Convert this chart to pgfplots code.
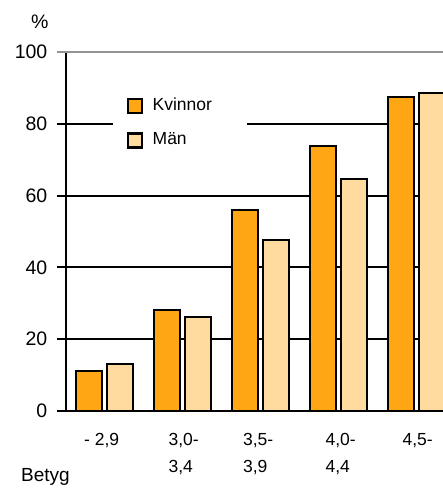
\documentclass[border=0pt]{standalone}
\usepackage{fontspec}
\setmainfont{Liberation Sans}
\usepackage{pgfplots}
\pgfplotsset{compat=1.18}
\definecolor{kv}{RGB}{255,166,20}
\definecolor{ma}{RGB}{255,219,160}
\newcommand\fs{\fontsize{17.5}{26.5}\selectfont}
\newcommand\fy{\fontsize{19.5}{23}\selectfont}
\begin{document}
\fs
\begin{tikzpicture}[x=1pt,y=1pt]
\begin{axis}[
  at={(65.5pt,78pt)}, anchor=south west,
  scale only axis, width=377.5pt, height=359pt,
  xmin=-0.4994, xmax=4.342, ymin=0, ymax=100,
  axis x line*=bottom, axis y line*=left,
  axis line style={line width=2pt, black},
  ybar, bar width=26pt,
  ytick={0,20,40,60,80},
  extra y ticks={100},
  extra y tick style={grid style={gray!85, line width=2pt}, ytick style={gray!85, line width=2pt}},
  ymajorgrids, grid style={black, line width=2pt},
  tick align=outside, major tick length=9pt,
  ytick style={black, line width=2pt},
  xtick={0,1,2,3,4}, xtick style={draw=none},
  xticklabels={{\hspace*{-6.5pt}- 2,9},{3,0-\\3,4},{\hspace*{-3.5pt}3,5-\\\hspace*{-3.5pt}3,9},{\hspace*{1pt}4,0-\\\hspace*{1pt}4,4},{4,5-}},
  xticklabel style={anchor=north west, inner sep=0pt, align=left, font=\fs, xshift=-14pt, yshift=-13.3pt},
  yticklabel style={anchor=east, inner sep=0pt, font=\fy, xshift=-9pt},
  /pgf/number format/assume math mode=true,
  legend style={at={(axis description cs:0.1258,0.9025)}, anchor=north west,
    draw=none, fill=white, inner xsep=13.5pt, inner ysep=6pt,
    nodes={inner sep=0pt, text height=17pt, text depth=4pt},
    cells={anchor=base west}, row sep=13pt, column sep=9.5pt, font=\fs},
  legend image code/.code={\draw[#1, line width=2.5pt] (0pt,-3pt) rectangle (14pt,11pt);},
]
\addplot[fill=kv, draw=black, line width=2pt, bar shift=-15.5pt] coordinates {(0,11.1) (1,28.1) (2,56.0) (3,73.8) (4,87.6)};
\addplot[fill=ma, draw=black, line width=2pt, bar shift=15.5pt] coordinates {(0,13.0) (1,26.2) (2,47.6) (3,64.5) (4,88.6)};
\legend{\makebox[81pt][l]{Kvinnor},\makebox[81pt][l]{Män}}
\end{axis}
\node[anchor=base west, inner sep=0pt, font=\fy] at (31,460) {\%};
\node[anchor=base west, inner sep=0pt, font=\fontsize{19}{23}\selectfont] at (21,7.5) {Betyg};
\pgfresetboundingbox
\path (0,0) rectangle (443,489);
\end{tikzpicture}
\end{document}
